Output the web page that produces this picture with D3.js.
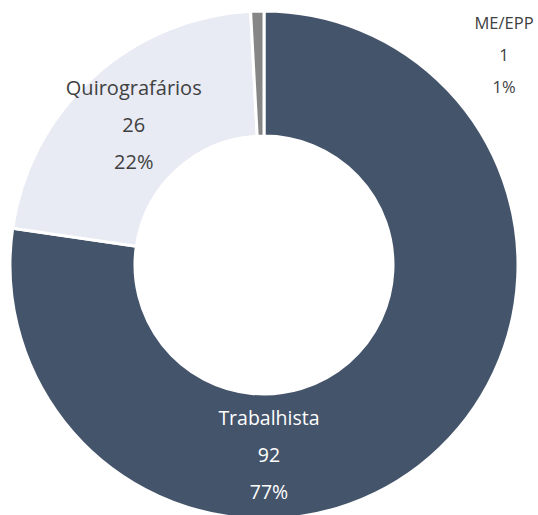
<!DOCTYPE html>
<html>
<head>
<meta charset="utf-8">
<script src="https://cdn.jsdelivr.net/npm/d3@7"></script>
<style>
  body { margin: 0; background: #fff; }
  svg text { font-family: "Open Sans", "Noto Sans", sans-serif; }
</style>
</head>
<body>
<svg width="538" height="515"></svg>
<script>
var width = 538;
var height = 515;

// data
var categories = ["Trabalhista", "Quirografários", "ME/EPP"];
var values = [92, 26, 1];
var colors = ["#44546A", "#E8EAF4", "#868686"];

// where each label block sits (polar, around the center), and its look
var labelAngle = [178.5, 317, 48.8];   // degrees clockwise from 12 o'clock
var labelRadius = [190, 191, 319];
var labelColor = ["#ffffff", "#404040", "#404040"];
var labelSize = [19.5, 20, 16.5];
var labelGap = [37, 37, 32];

var cx = 264, cy = 265;
var outerR = 254, innerR = 129;

var svg = d3.select("svg");
var total = d3.sum(values);
var pct = d3.format(".0%");

var pie = d3.pie().sort(null).value(function (d) { return d; });
var arc = d3.arc().innerRadius(innerR).outerRadius(outerR);

var g = svg.append("g").attr("transform", "translate(" + cx + "," + cy + ")");

g.selectAll("path")
  .data(pie(values))
  .enter()
  .append("path")
  .attr("d", arc)
  .attr("fill", function (d, i) { return colors[i]; })
  .attr("stroke", "#fff")
  .attr("stroke-width", 3)
  .attr("stroke-linejoin", "round");

// labels: name, value, percent
categories.forEach(function (name, i) {
  var a = labelAngle[i] * Math.PI / 180;
  var x = labelRadius[i] * Math.sin(a);
  var y = -labelRadius[i] * Math.cos(a);
  var lines = [name, values[i], pct(values[i] / total)];
  var t = g.append("g").attr("transform", "translate(" + x + "," + y + ")");
  t.selectAll("text")
    .data(lines)
    .enter()
    .append("text")
    .attr("text-anchor", "middle")
    .attr("y", function (d, k) { return (k - 1) * labelGap[i]; })
    .attr("dy", "0.35em")
    .attr("fill", labelColor[i])
    .attr("font-size", labelSize[i] + "px")
    .text(function (d) { return d; });
});
</script>
</body>
</html>
